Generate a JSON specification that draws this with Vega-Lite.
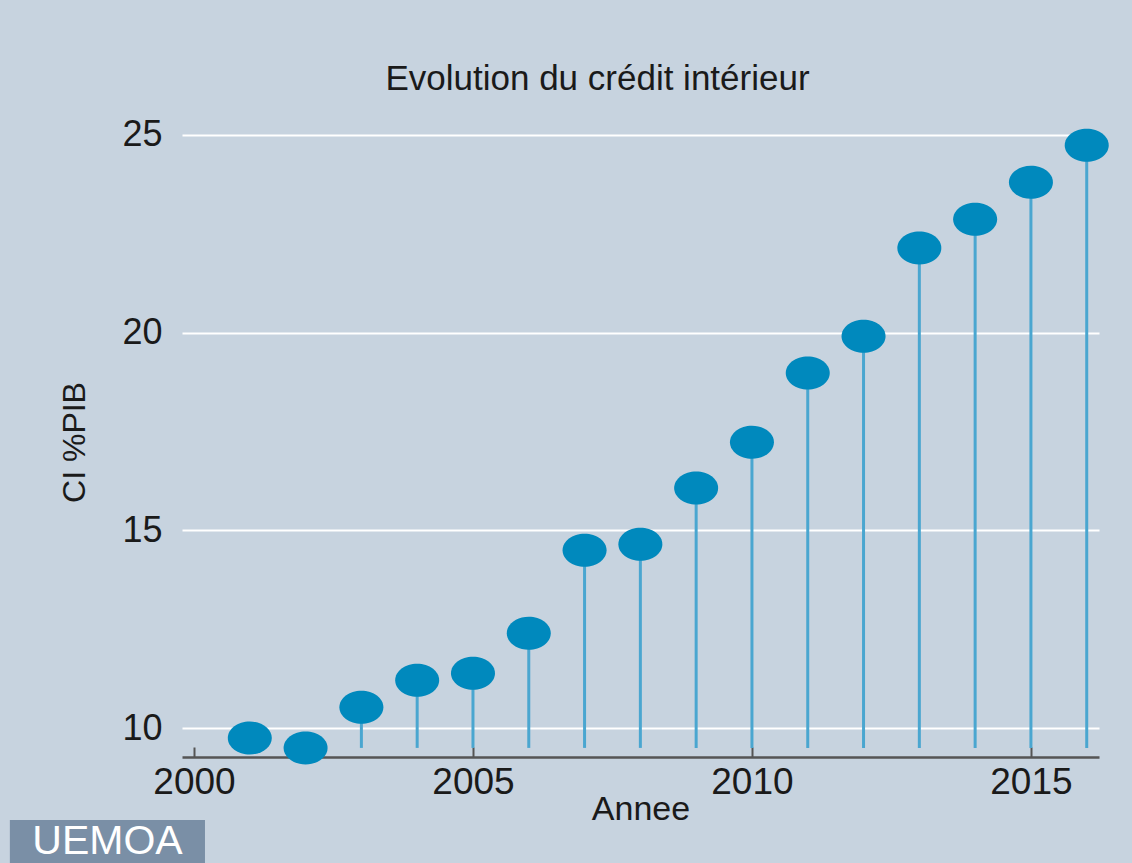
{
  "$schema": "https://vega.github.io/schema/vega-lite/v6.json",
  "autosize": "none",
  "width": 917,
  "height": 630,
  "padding": {"left": 182, "top": 127, "right": 33, "bottom": 106},
  "background": "#c7d3df",
  "config": {
    "view": {"stroke": null, "fill": "#c7d3df"},
    "font": "Liberation Sans"
  },
  "title": {
    "text": "Evolution du crédit intérieur",
    "fontSize": 35,
    "fontWeight": "normal",
    "color": "#1a1a1a",
    "font": "Liberation Sans",
    "anchor": "middle",
    "dx": -43,
    "offset": 20
  },
  "data": {
    "values": [
      {"Annee": 2001, "CI": 9.75},
      {"Annee": 2002, "CI": 9.5},
      {"Annee": 2003, "CI": 10.53},
      {"Annee": 2004, "CI": 11.21},
      {"Annee": 2005, "CI": 11.39},
      {"Annee": 2006, "CI": 12.4},
      {"Annee": 2007, "CI": 14.5},
      {"Annee": 2008, "CI": 14.65},
      {"Annee": 2009, "CI": 16.07},
      {"Annee": 2010, "CI": 17.23},
      {"Annee": 2011, "CI": 18.98},
      {"Annee": 2012, "CI": 19.91},
      {"Annee": 2013, "CI": 22.14},
      {"Annee": 2014, "CI": 22.87},
      {"Annee": 2015, "CI": 23.8},
      {"Annee": 2016, "CI": 24.74}
    ]
  },
  "layer": [
    {
      "mark": {"type": "rule", "color": "#4aa6d0", "strokeWidth": 3},
      "encoding": {
        "x": {
          "field": "Annee", "type": "quantitative",
          "scale": {"domain": [1999.785, 2016.22], "nice": false, "zero": false},
          "axis": {
            "title": "Annee",
            "values": [2000, 2005, 2010, 2015],
            "format": "d",
            "grid": false,
            "domainColor": "#555555",
            "domainWidth": 2.5,
            "tickColor": "#555555",
            "tickWidth": 2,
            "tickSize": -10,
            "labelPadding": 17,
            "labelFontSize": 37,
            "labelColor": "#1a1a1a",
            "labelFont": "Liberation Sans",
            "titleFontSize": 34,
            "titleFontWeight": "normal",
            "titleColor": "#1a1a1a",
            "titleFont": "Liberation Sans",
            "titlePadding": -8
          }
        },
        "y": {
          "field": "CI", "type": "quantitative",
          "scale": {"domain": [9.27, 25.2], "nice": false, "zero": false},
          "axis": {
            "title": "CI %PIB",
            "values": [10, 15, 20, 25],
            "grid": true,
            "gridColor": "#ffffff",
            "gridWidth": 2,
            "domain": false,
            "ticks": false,
            "labelPadding": 20,
            "labelFontSize": 36,
            "labelColor": "#1a1a1a",
            "labelFont": "Liberation Sans",
            "titleFontSize": 32,
            "titleFontWeight": "normal",
            "titleColor": "#1a1a1a",
            "titleFont": "Liberation Sans",
            "titlePadding": 30
          }
        },
        "y2": {"datum": 9.5}
      }
    },
    {
      "mark": {
        "type": "point",
        "filled": true,
        "opacity": 1,
        "color": "#0089bd",
        "shape": "M -1 0 C -1 -0.414 -0.552 -0.75 0 -0.75 C 0.552 -0.75 1 -0.414 1 0 C 1 0.414 0.552 0.75 0 0.75 C -0.552 0.75 -1 0.414 -1 0 Z",
        "size": 1936
      },
      "encoding": {
        "x": {"field": "Annee", "type": "quantitative"},
        "y": {"field": "CI", "type": "quantitative"}
      }
    },
    {
      "data": {"values": [{"label": "UEMOA"}]},
      "mark": {"type": "rect", "color": "#7a8fa6"},
      "encoding": {
        "x": {"datum": 1996.70, "type": "quantitative"},
        "x2": {"datum": 2000.197},
        "y": {"datum": 7.674, "type": "quantitative"},
        "y2": {"datum": 6.587}
      }
    },
    {
      "data": {"values": [{"label": "UEMOA"}]},
      "mark": {"type": "text", "color": "#ffffff", "fontSize": 41, "font": "Liberation Sans", "align": "center", "baseline": "middle"},
      "encoding": {
        "text": {"field": "label"},
        "x": {"datum": 1998.45, "type": "quantitative"},
        "y": {"datum": 7.13, "type": "quantitative"}
      }
    }
  ]
}
